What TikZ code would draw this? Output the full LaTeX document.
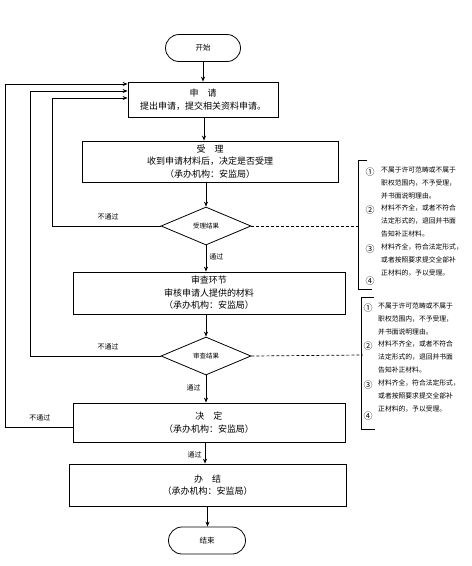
\documentclass[tikz,border=0pt]{standalone}
\usepackage{fontspec}
\setmainfont{Noto Sans CJK SC}
\usetikzlibrary{arrows.meta,shapes.geometric}
\tikzset{
  procbox/.style={draw,line width=0.8pt,align=center,inner sep=0pt,font=\fontsize{9}{12.5}\selectfont},
  termbox/.style={draw,line width=0.8pt,rounded corners=13.5pt,minimum width=75pt,minimum height=27pt,inner sep=0pt,font=\fontsize{7.5}{9}\selectfont},
  decbox/.style={draw,line width=0.8pt,diamond,aspect=2.4,minimum width=90pt,minimum height=38pt,inner sep=0pt,font=\fontsize{6.5}{8}\selectfont},
  flow/.style={line width=0.8pt,-{Stealth[length=5pt,width=4pt]}},
  lbl/.style={font=\fontsize{7}{8}\selectfont,inner sep=0pt},
  note/.style={font=\fontsize{6.8}{13}\selectfont,inner sep=0pt,align=left,anchor=north west},
  num/.style={font=\fontsize{9}{10}\selectfont,inner sep=0pt}
}
\begin{document}
\begin{tikzpicture}[x=1pt,y=-1pt]
\useasboundingbox (0,0) rectangle (472,566);
\fill[white] (0,0) rectangle (472,566);
\node[termbox] (start) at (203,48) {开始};
\node[procbox,minimum width=150pt,minimum height=35pt] (apply) at (203,99.5) {申\quad 请\\提出申请，提交相关资料申请。};
\node[procbox,minimum width=256pt,minimum height=41pt] (accept) at (210,161.5) {受\quad 理\\收到申请材料后，决定是否受理\\（承办机构：安监局）};
\node[decbox] (d1) at (206,226) {受理结果};
\node[procbox,minimum width=272pt,minimum height=42pt] (review) at (209,293) {审查环节\\审核申请人提供的材料\\（承办机构：安监局）};
\node[decbox] (d2) at (206,356) {审查结果};
\node[procbox,minimum width=272pt,minimum height=39pt] (decide) at (209,422.5) {决\quad 定\\（承办机构：安监局）};
\node[procbox,minimum width=277pt,minimum height=42pt] (finish) at (207.5,485) {办\quad 结\\（承办机构：安监局）};
\node[termbox,minimum width=77pt] (end) at (207,540.5) {结束};

\draw[flow] (start) -- (apply);
\draw[flow] ([xshift=1pt]apply.south) -- ([xshift=1pt]apply.south |- accept.north);
\draw[flow] (d1.north |- accept.south) -- (d1.north);
\draw[flow] (d1.south) -- node[lbl,right=3pt,pos=0.45] {通过} (d1.south |- review.north);
\draw[flow] (d2.north |- review.south) -- (d2.north);
\draw[flow] (d2.south) -- node[lbl,left=5pt,pos=0.45] {通过} (d2.south |- decide.north);
\draw[flow] ([xshift=-4pt]decide.south) -- node[lbl,left=3pt,pos=0.6] {通过} ([xshift=-4pt]decide.south |- finish.north);
\draw[flow] (finish.south) -- (finish.south |- end.north);

\coordinate (c1) at (52,226);
\coordinate (c2) at (30,356);
\coordinate (c3) at (5,427);
\draw[flow] (d1.west) -- (c1) |- ([yshift=1.5pt]apply.west);
\draw[flow] (d2.west) -- (c2) |- ([yshift=8.5pt]apply.west);
\draw[flow] ([yshift=-4.5pt]decide.west) -- (c3) |- ([yshift=15.5pt]apply.west);
\node[lbl] (n1) at (108,217) {不通过};
\node[lbl] (n2) at (108,347) {不通过};
\node[lbl] (n3) at (40,418) {不通过};

% bracket 1
\coordinate (b1t) at (358,160);
\coordinate (b1b) at (358,289);
\draw[line width=0.8pt] (367,160) -- (b1t) -- (b1b) -- (372,289);
\draw[line width=0.7pt,dash pattern=on 3pt off 2pt] (d1.east) -- (361,226);
\node[num] (k1) at (370,172) {①};
\node[note] (t1) at (381,166.5) {不属于许可范畴或不属于\\职权范围内，不予受理，\\并书面说明理由。};
\node[num] (k2) at (370,210) {②};
\node[note] (t2) at (381,204.5) {材料不齐全，或者不符合\\法定形式的，退回并书面\\告知补正材料。};
\node[num] (k3) at (370,249) {③};
\node[note] (t3) at (381,243.5) {材料齐全，符合法定形式，\\或者按照要求提交全部补\\正材料的，予以受理。};
\node[num] (k4) at (370,281) {④};

% bracket 2
\coordinate (b2t) at (361,297);
\coordinate (b2b) at (361,429);
\draw[line width=0.8pt] (374,297) -- (b2t) -- (b2b) -- (375,429);
\draw[line width=0.7pt,dash pattern=on 3pt off 2pt] (d2.east) -- (363,355);
\node[num] (m1) at (368,308) {①};
\node[note] (s1) at (378,302.5) {不属于许可范畴或不属于\\职权范围内，不予受理，\\并书面说明理由。};
\node[num] (m2) at (368,346) {②};
\node[note] (s2) at (378,340.5) {材料不齐全，或者不符合\\法定形式的，退回并书面\\告知补正材料。};
\node[num] (m3) at (368,385) {③};
\node[note] (s3) at (378,379.5) {材料齐全，符合法定形式，\\或者按照要求提交全部补\\正材料的，予以受理。};
\node[num] (m4) at (368,416) {④};
\end{tikzpicture}
\end{document}
